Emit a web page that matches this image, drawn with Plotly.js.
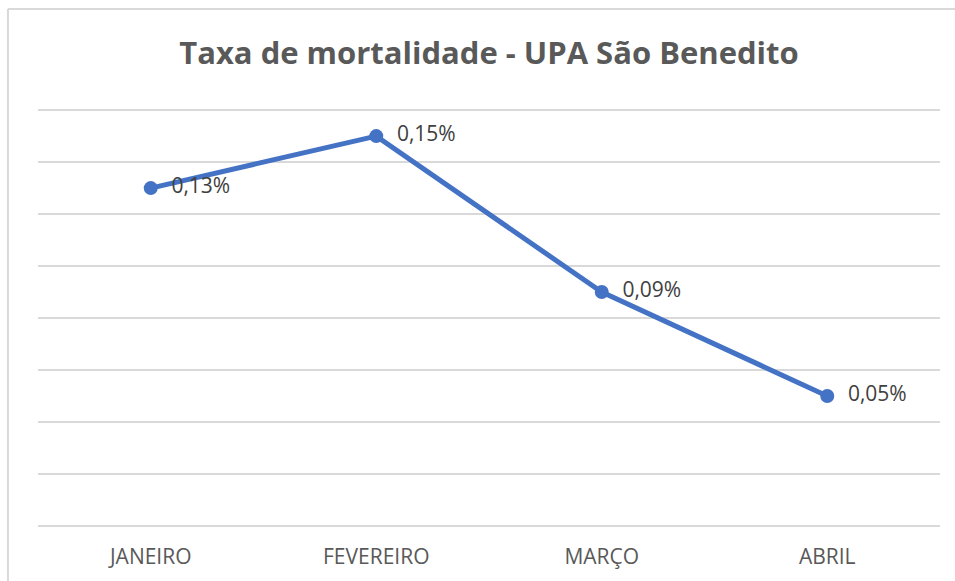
<!DOCTYPE html>
<html>
<head>
<meta charset="utf-8">
<script src="https://cdn.plot.ly/plotly-3.0.1.min.js"></script>
<style>
  html, body { margin: 0; padding: 0; background: #ffffff; }
  #chart { width: 955px; height: 581px; }
</style>
</head>
<body>
<div id="chart"></div>
<script>
const months = ["JANEIRO", "FEVEREIRO", "MARÇO", "ABRIL"];
const mortalityRate = [0.13, 0.15, 0.09, 0.05];
const chartTitle = "Taxa de mortalidade - UPA São Benedito";

const trace = {
  type: "scatter",
  mode: "lines+markers+text",
  x: months,
  y: mortalityRate,
  line: { color: "#4472C4", width: 5 },
  marker: { color: "#4472C4", size: 14 },
  texttemplate: "\u00a0\u00a0%{y:.2f}%",
  textposition: "middle right",
  textfont: { family: "Open Sans, sans-serif", size: 21, color: "#404040" },
  cliponaxis: false,
  hoverinfo: "skip"
};

const gridColor = "#d9d9d9";
const layout = {
  width: 955,
  height: 581,
  margin: { l: 38, r: 15, t: 107, b: 55 },
  paper_bgcolor: "#ffffff",
  plot_bgcolor: "#ffffff",
  separators: ",.",
  showlegend: false,
  title: {
    text: "<b>" + chartTitle + "</b>",
    x: 0.5, xref: "paper", xanchor: "center",
    y: 55, yref: "container", yanchor: "middle",
    font: { family: "Open Sans, sans-serif", size: 31, color: "#595959" }
  },
  xaxis: {
    type: "category",
    range: [-0.5, 3.5],
    showgrid: false,
    zeroline: false,
    showline: false,
    ticks: "",
    ticklabelstandoff: 16,
    tickfont: { family: "Open Sans, sans-serif", size: 21, color: "#595959" },
    fixedrange: true
  },
  yaxis: {
    range: [0, 0.1612],
    dtick: 0.02,
    showgrid: true,
    gridcolor: gridColor,
    gridwidth: 1.5,
    zeroline: true,
    zerolinecolor: gridColor,
    zerolinewidth: 1.5,
    showticklabels: false,
    ticks: "",
    fixedrange: true
  },
  shapes: [
    { type: "line", xref: "paper", yref: "paper", x0: -0.0333, x1: 1.02, y0: 1.2339, y1: 1.2339,
      line: { color: "#d9d9d9", width: 2 } },
    { type: "line", xref: "paper", yref: "paper", x0: -0.0333, x1: -0.0333, y0: 1.2339, y1: -0.14,
      line: { color: "#d9d9d9", width: 2 } }
  ]
};

Plotly.newPlot("chart", [trace], layout, { displayModeBar: false, staticPlot: true });
</script>
</body>
</html>
